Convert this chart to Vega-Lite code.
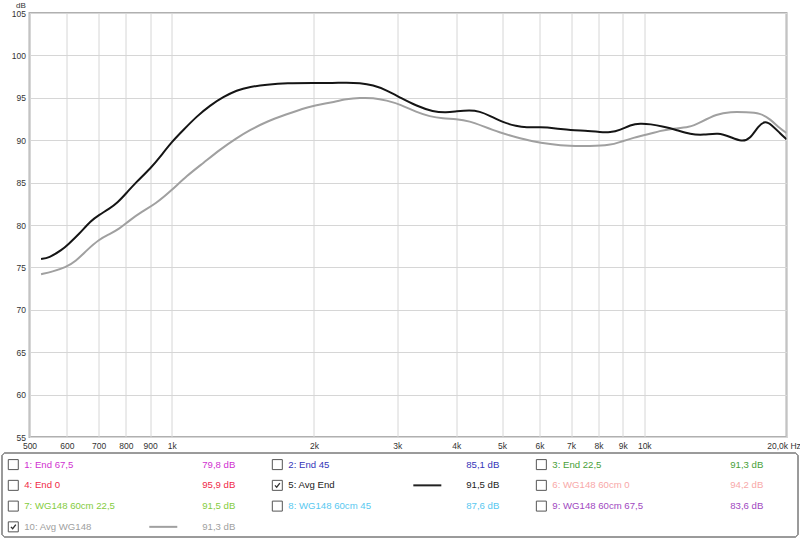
{
  "$schema": "https://vega.github.io/schema/vega-lite/v6.json",
  "padding": {"left": 0.5, "top": 0, "right": 0, "bottom": 0},
  "background": "white",
  "spacing": 1,
  "resolve": {"scale": {"color": "independent", "x": "independent", "y": "independent"}},
  "config": {
    "font": "Liberation Sans",
    "axis": {"labelFont": "Liberation Sans", "titleFont": "Liberation Sans"},
    "text": {"font": "Liberation Sans"}
  },
  "datasets": {
    "curves": [
      {"trace": "Avg WG148", "freq": 529, "db": 74.2},
      {"trace": "Avg WG148", "freq": 559, "db": 74.5},
      {"trace": "Avg WG148", "freq": 596, "db": 75.0},
      {"trace": "Avg WG148", "freq": 626, "db": 75.7},
      {"trace": "Avg WG148", "freq": 663, "db": 77.1},
      {"trace": "Avg WG148", "freq": 702, "db": 78.3},
      {"trace": "Avg WG148", "freq": 737, "db": 78.9},
      {"trace": "Avg WG148", "freq": 773, "db": 79.5},
      {"trace": "Avg WG148", "freq": 812, "db": 80.5},
      {"trace": "Avg WG148", "freq": 866, "db": 81.6},
      {"trace": "Avg WG148", "freq": 925, "db": 82.5},
      {"trace": "Avg WG148", "freq": 1000, "db": 84.1},
      {"trace": "Avg WG148", "freq": 1076, "db": 85.8},
      {"trace": "Avg WG148", "freq": 1166, "db": 87.3},
      {"trace": "Avg WG148", "freq": 1265, "db": 88.9},
      {"trace": "Avg WG148", "freq": 1372, "db": 90.25},
      {"trace": "Avg WG148", "freq": 1464, "db": 91.2},
      {"trace": "Avg WG148", "freq": 1588, "db": 92.2},
      {"trace": "Avg WG148", "freq": 1750, "db": 93.05},
      {"trace": "Avg WG148", "freq": 1897, "db": 93.75},
      {"trace": "Avg WG148", "freq": 2000, "db": 94.06},
      {"trace": "Avg WG148", "freq": 2196, "db": 94.5},
      {"trace": "Avg WG148", "freq": 2344, "db": 94.85},
      {"trace": "Avg WG148", "freq": 2500, "db": 95.0},
      {"trace": "Avg WG148", "freq": 2668, "db": 95.0},
      {"trace": "Avg WG148", "freq": 2848, "db": 94.7},
      {"trace": "Avg WG148", "freq": 3050, "db": 94.2},
      {"trace": "Avg WG148", "freq": 3296, "db": 93.3},
      {"trace": "Avg WG148", "freq": 3516, "db": 92.8},
      {"trace": "Avg WG148", "freq": 3750, "db": 92.55},
      {"trace": "Avg WG148", "freq": 4000, "db": 92.5},
      {"trace": "Avg WG148", "freq": 4272, "db": 92.25},
      {"trace": "Avg WG148", "freq": 4557, "db": 91.65},
      {"trace": "Avg WG148", "freq": 4941, "db": 90.9},
      {"trace": "Avg WG148", "freq": 5362, "db": 90.35},
      {"trace": "Avg WG148", "freq": 5813, "db": 89.85},
      {"trace": "Avg WG148", "freq": 6306, "db": 89.55},
      {"trace": "Avg WG148", "freq": 6950, "db": 89.3},
      {"trace": "Avg WG148", "freq": 7660, "db": 89.3},
      {"trace": "Avg WG148", "freq": 8475, "db": 89.4},
      {"trace": "Avg WG148", "freq": 8900, "db": 89.8},
      {"trace": "Avg WG148", "freq": 9492, "db": 90.3},
      {"trace": "Avg WG148", "freq": 10130, "db": 90.65},
      {"trace": "Avg WG148", "freq": 10810, "db": 91.1},
      {"trace": "Avg WG148", "freq": 11350, "db": 91.35},
      {"trace": "Avg WG148", "freq": 12510, "db": 91.5},
      {"trace": "Avg WG148", "freq": 13130, "db": 92.1},
      {"trace": "Avg WG148", "freq": 14245, "db": 93.1},
      {"trace": "Avg WG148", "freq": 15200, "db": 93.35},
      {"trace": "Avg WG148", "freq": 16480, "db": 93.3},
      {"trace": "Avg WG148", "freq": 17590, "db": 93.2},
      {"trace": "Avg WG148", "freq": 18465, "db": 92.5},
      {"trace": "Avg WG148", "freq": 19390, "db": 91.35},
      {"trace": "Avg WG148", "freq": 20000, "db": 90.85},
      {"trace": "Avg End", "freq": 529, "db": 76.0},
      {"trace": "Avg End", "freq": 549, "db": 76.1},
      {"trace": "Avg End", "freq": 587, "db": 77.1},
      {"trace": "Avg End", "freq": 603, "db": 77.7},
      {"trace": "Avg End", "freq": 636, "db": 78.9},
      {"trace": "Avg End", "freq": 674, "db": 80.5},
      {"trace": "Avg End", "freq": 702, "db": 81.2},
      {"trace": "Avg End", "freq": 737, "db": 81.9},
      {"trace": "Avg End", "freq": 767, "db": 82.6},
      {"trace": "Avg End", "freq": 803, "db": 83.8},
      {"trace": "Avg End", "freq": 839, "db": 85.0},
      {"trace": "Avg End", "freq": 903, "db": 86.7},
      {"trace": "Avg End", "freq": 950, "db": 88.2},
      {"trace": "Avg End", "freq": 1000, "db": 89.8},
      {"trace": "Avg End", "freq": 1058, "db": 91.2},
      {"trace": "Avg End", "freq": 1129, "db": 92.8},
      {"trace": "Avg End", "freq": 1205, "db": 94.1},
      {"trace": "Avg End", "freq": 1286, "db": 95.1},
      {"trace": "Avg End", "freq": 1372, "db": 95.9},
      {"trace": "Avg End", "freq": 1464, "db": 96.3},
      {"trace": "Avg End", "freq": 1588, "db": 96.55},
      {"trace": "Avg End", "freq": 1750, "db": 96.75},
      {"trace": "Avg End", "freq": 2000, "db": 96.75},
      {"trace": "Avg End", "freq": 2196, "db": 96.75},
      {"trace": "Avg End", "freq": 2344, "db": 96.8},
      {"trace": "Avg End", "freq": 2500, "db": 96.75},
      {"trace": "Avg End", "freq": 2668, "db": 96.5},
      {"trace": "Avg End", "freq": 2848, "db": 95.9},
      {"trace": "Avg End", "freq": 3050, "db": 95.0},
      {"trace": "Avg End", "freq": 3296, "db": 94.05},
      {"trace": "Avg End", "freq": 3573, "db": 93.35},
      {"trace": "Avg End", "freq": 3813, "db": 93.25},
      {"trace": "Avg End", "freq": 4000, "db": 93.4},
      {"trace": "Avg End", "freq": 4272, "db": 93.55},
      {"trace": "Avg End", "freq": 4485, "db": 93.4},
      {"trace": "Avg End", "freq": 4708, "db": 92.9},
      {"trace": "Avg End", "freq": 5024, "db": 92.1},
      {"trace": "Avg End", "freq": 5362, "db": 91.65},
      {"trace": "Avg End", "freq": 5630, "db": 91.5},
      {"trace": "Avg End", "freq": 6005, "db": 91.55},
      {"trace": "Avg End", "freq": 6514, "db": 91.4},
      {"trace": "Avg End", "freq": 6950, "db": 91.2},
      {"trace": "Avg End", "freq": 7660, "db": 91.1},
      {"trace": "Avg End", "freq": 8040, "db": 90.95},
      {"trace": "Avg End", "freq": 8475, "db": 90.9},
      {"trace": "Avg End", "freq": 8900, "db": 91.2},
      {"trace": "Avg End", "freq": 9340, "db": 91.8},
      {"trace": "Avg End", "freq": 9807, "db": 92.0},
      {"trace": "Avg End", "freq": 10296, "db": 91.9},
      {"trace": "Avg End", "freq": 10985, "db": 91.6},
      {"trace": "Avg End", "freq": 11725, "db": 91.2},
      {"trace": "Avg End", "freq": 12510, "db": 90.7},
      {"trace": "Avg End", "freq": 13345, "db": 90.6},
      {"trace": "Avg End", "freq": 14357, "db": 90.9},
      {"trace": "Avg End", "freq": 15200, "db": 90.4},
      {"trace": "Avg End", "freq": 16090, "db": 89.8},
      {"trace": "Avg End", "freq": 16750, "db": 90.15},
      {"trace": "Avg End", "freq": 17445, "db": 91.7},
      {"trace": "Avg End", "freq": 18020, "db": 92.3},
      {"trace": "Avg End", "freq": 18620, "db": 91.8},
      {"trace": "Avg End", "freq": 19390, "db": 90.8},
      {"trace": "Avg End", "freq": 20000, "db": 90.1}
    ],
    "legend": [
      {"label": "1: End 67,5", "value": "79,8 dB", "col": 0, "row": 0, "checked": false, "shown": false},
      {"label": "2: End 45", "value": "85,1 dB", "col": 1, "row": 0, "checked": false, "shown": false},
      {"label": "3: End 22,5", "value": "91,3 dB", "col": 2, "row": 0, "checked": false, "shown": false},
      {"label": "4: End 0", "value": "95,9 dB", "col": 0, "row": 1, "checked": false, "shown": false},
      {"label": "5: Avg End", "value": "91,5 dB", "col": 1, "row": 1, "checked": true, "shown": true},
      {"label": "6: WG148 60cm 0", "value": "94,2 dB", "col": 2, "row": 1, "checked": false, "shown": false},
      {"label": "7: WG148 60cm 22,5", "value": "91,5 dB", "col": 0, "row": 2, "checked": false, "shown": false},
      {"label": "8: WG148 60cm 45", "value": "87,6 dB", "col": 1, "row": 2, "checked": false, "shown": false},
      {"label": "9: WG148 60cm 67,5", "value": "83,6 dB", "col": 2, "row": 2, "checked": false, "shown": false},
      {"label": "10: Avg WG148", "value": "91,3 dB", "col": 0, "row": 3, "checked": true, "shown": true}
    ]
  },
  "vconcat": [
    {
      "width": 757,
      "height": 424,
      "view": {"stroke": "#b0b0b0", "strokeWidth": 2},
      "data": {"name": "curves"},
      "mark": {"type": "line", "interpolate": "basis", "strokeWidth": 2, "clip": true},
      "encoding": {
        "x": {
          "field": "freq", "type": "quantitative",
          "scale": {"type": "log", "domain": [500, 20000], "nice": false},
          "axis": {
            "values": [500, 600, 700, 800, 900, 1000, 2000, 3000, 4000, 5000, 6000, 7000, 8000, 9000, 10000, 20000],
            "labelExpr": "datum.value >= 20000 ? '20,0k Hz' : (datum.value >= 1000 ? format(datum.value / 1000, 'd') + 'k' : format(datum.value, 'd'))",
            "labelOffset": {"condition": {"test": "datum.value >= 20000", "value": -3}, "value": 0},
            "title": null, "grid": true, "gridColor": "#d6d6d6", "gridWidth": 1,
            "ticks": false, "domain": false,
            "labelFontSize": 8.5, "labelColor": "#333333", "labelPadding": 4,
            "labelFlush": false, "labelOverlap": false, "labelBound": false
          }
        },
        "y": {
          "field": "db", "type": "quantitative",
          "scale": {"domain": [55, 105], "nice": false, "zero": false},
          "axis": {
            "values": [55, 60, 65, 70, 75, 80, 85, 90, 95, 100, 105],
            "title": "dB", "titleAngle": 0, "titleX": -9, "titleY": -8,
            "titleAlign": "center", "titleBaseline": "middle",
            "titleFontSize": 8, "titleFontWeight": "normal", "titleColor": "#333333",
            "grid": true, "gridColor": "#d6d6d6", "gridWidth": 1,
            "ticks": false, "domain": false,
            "labelFontSize": 8.5, "labelColor": "#333333", "labelPadding": 4,
            "minExtent": 27.5, "maxExtent": 27.5
          }
        },
        "color": {
          "field": "trace", "type": "nominal",
          "scale": {"domain": ["Avg WG148", "Avg End"], "range": ["#a0a0a0", "#151515"]},
          "legend": null
        }
      }
    },
    {
      "width": 768.5,
      "height": 84,
      "view": {"stroke": null},
      "data": {"name": "legend"},
      "encoding": {
        "x": {"field": "col", "type": "quantitative", "scale": {"domain": [0.0614, 2.972], "nice": false, "zero": false}, "axis": null},
        "y": {"field": "row", "type": "quantitative", "scale": {"domain": [-0.559, 3.489], "nice": false, "zero": false, "reverse": true}, "axis": null}
      },
      "layer": [
        {
          "mark": {"type": "rect", "filled": false, "stroke": "#9a9a9a", "strokeWidth": 1, "cornerRadius": 4},
          "encoding": {
            "x": {"datum": -0.0428, "type": "quantitative"},
            "x2": {"datum": 2.972},
            "y": {"datum": -0.559, "type": "quantitative"},
            "y2": {"datum": 3.489}
          }
        },
        {
          "mark": {"type": "point", "shape": "square", "size": 100, "filled": false, "stroke": "#555555", "strokeWidth": 1, "opacity": 1}
        },
        {
          "transform": [{"filter": "datum.checked"}],
          "mark": {"type": "point", "shape": "M -0.75 0 L -0.2 0.6 L 0.8 -0.7", "size": 40, "filled": false, "stroke": "#333333", "strokeWidth": 1.3, "opacity": 1}
        },
        {
          "mark": {"type": "text", "align": "left", "baseline": "middle", "dx": 11, "fontSize": 9.6},
          "encoding": {
            "text": {"field": "label"},
            "color": {
              "field": "label", "type": "nominal", "legend": null,
              "scale": {
                "domain": ["1: End 67,5", "2: End 45", "3: End 22,5", "4: End 0", "5: Avg End", "6: WG148 60cm 0", "7: WG148 60cm 22,5", "8: WG148 60cm 45", "9: WG148 60cm 67,5", "10: Avg WG148"],
                "range": ["#d030d0", "#3434b8", "#48a038", "#f02848", "#222222", "#f8a8a8", "#84cc40", "#58c8f0", "#a048c0", "#a0a0a0"]
              }
            }
          }
        },
        {
          "mark": {"type": "text", "align": "right", "baseline": "middle", "dx": 222, "fontSize": 9.6},
          "encoding": {
            "text": {"field": "value"},
            "color": {"field": "label", "type": "nominal", "legend": null}
          }
        },
        {
          "transform": [{"filter": "datum.shown"}],
          "mark": {"type": "rule", "xOffset": 136, "x2Offset": 164, "strokeWidth": 2},
          "encoding": {
            "x2": {"field": "col"},
            "color": {"field": "label", "type": "nominal", "legend": null}
          }
        }
      ]
    }
  ]
}
